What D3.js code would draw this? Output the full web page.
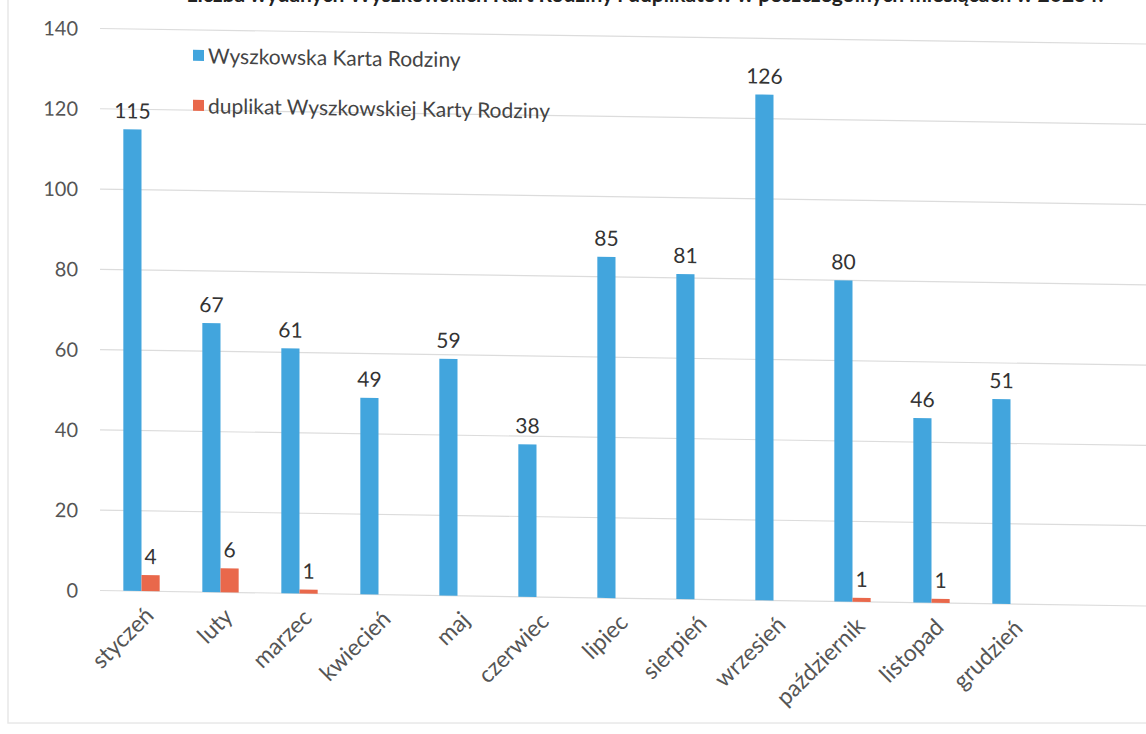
<!DOCTYPE html>
<html>
<head>
<meta charset="utf-8">
<script src="https://cdn.jsdelivr.net/npm/d3@7"></script>
<style>
  body { margin: 0; background: #fff; }
  svg { display: block; font-family: Lato, "Open Sans", sans-serif; }
</style>
</head>
<body>
<div id="chart"></div>
<script>
  // chart data
  var months = ["styczeń", "luty", "marzec", "kwiecień", "maj", "czerwiec",
    "lipiec", "sierpień", "wrzesień", "październik", "listopad", "grudzień"];
  var seriesNames = ["Wyszkowska Karta Rodziny", "duplikat Wyszkowskiej Karty Rodziny"];
  var cards = [115, 67, 61, 49, 59, 38, 85, 81, 126, 80, 46, 51];
  var duplicates = [4, 6, 1, 0, 0, 0, 0, 0, 0, 1, 1, 0];
  var yTicks = [0, 20, 40, 60, 80, 100, 120, 140];
  var colors = ["#42a5dd", "#e9684b"];

  var svgWidth = 1146;
  var svgHeight = 734;

  var svg = d3.select("#chart")
    .append("svg")
    .attr("width", svgWidth)
    .attr("height", svgHeight);

  // faint frame of the scanned page
  svg.append("rect")
    .attr("x", 8).attr("y", -10)
    .attr("width", 1160).attr("height", 733)
    .attr("fill", "none")
    .attr("stroke", "#e8e8e8")
    .attr("stroke-width", 1.5);

  // title, mostly cut off by the top edge of the scan
  svg.append("text")
    .attr("x", 645)
    .attr("y", 2)
    .attr("text-anchor", "middle")
    .attr("font-size", "21px")
    .attr("font-weight", "bold")
    .attr("fill", "#222")
    .text("Liczba wydanych Wyszkowskich Kart Rodziny i duplikatów w poszczególnych miesiącach w 2023 r.");

  // the scan is slightly skewed, everything drops to the right
  var chartGroup = svg.append("g")
    .attr("transform", "translate(0,-1) skewY(0.85)");

  var xScale = d3.scaleBand()
    .domain(months)
    .range([102, 1050])
    .paddingInner(0.54)
    .paddingOuter(0.27);

  var xSub = d3.scaleBand()
    .domain([0, 1])
    .range([0, xScale.bandwidth()]);

  var yScale = d3.scaleLinear()
    .domain([0, 140])
    .range([590, 28]);

  // gridlines
  chartGroup.append("g")
    .selectAll("line")
    .data(yTicks)
    .enter()
    .append("line")
    .attr("x1", 100)
    .attr("x2", 1146)
    .attr("y1", d => yScale(d))
    .attr("y2", d => yScale(d))
    .attr("stroke", "#dcdcdc")
    .attr("stroke-width", 1.2);

  // y axis labels
  var yAxis = d3.axisLeft(yScale).tickValues(yTicks).tickSize(0).tickPadding(0);
  var yG = chartGroup.append("g")
    .attr("transform", "translate(78,0)")
    .call(yAxis);
  yG.select(".domain").remove();
  yG.selectAll("text")
    .attr("font-size", "20px")
    .attr("font-family", "Lato, sans-serif")
    .attr("fill", "#555")
    .attr("dy", "0.35em");

  // x axis labels
  var xAxis = d3.axisBottom(xScale).tickSize(0).tickPadding(0);
  var xG = chartGroup.append("g")
    .attr("transform", "translate(0,600)")
    .call(xAxis);
  xG.select(".domain").remove();
  xG.selectAll("text")
    .attr("font-size", "23px")
    .attr("font-family", "Lato, sans-serif")
    .attr("fill", "#555")
    .attr("text-anchor", "end")
    .attr("transform", "translate(8,10) rotate(-45)")
    .attr("dy", "0.35em")
    .attr("y", 0);

  var rows = months.map(function(m, i) {
    return { month: m, values: [cards[i], duplicates[i]] };
  });

  var groups = chartGroup.selectAll("g.month")
    .data(rows)
    .enter()
    .append("g")
    .attr("class", "month")
    .attr("transform", d => `translate(${xScale(d.month)},0)`);

  groups.selectAll("rect")
    .data(d => d.values)
    .enter()
    .append("rect")
    .attr("x", (d, i) => xSub(i))
    .attr("width", xSub.bandwidth())
    .attr("y", d => yScale(d))
    .attr("height", d => yScale(0) - yScale(d))
    .attr("fill", (d, i) => colors[i]);

  // value labels, only for non-zero values
  groups.each(function(d) {
    var g = d3.select(this);
    d.values.forEach(function(v, i) {
      if (v <= 0) return;
      g.append("text")
        .attr("x", xSub(i) + xSub.bandwidth() / 2)
        .attr("y", yScale(v) - 11)
        .attr("text-anchor", "middle")
        .attr("font-size", "21px")
        .attr("fill", "#333")
        .text(v);
    });
  });

  // legend
  var legend = chartGroup.append("g")
    .attr("transform", "translate(193,48)");

  legend.selectAll("rect")
    .data(seriesNames)
    .enter()
    .append("rect")
    .attr("x", 0)
    .attr("y", (d, i) => i * 50)
    .attr("width", 11)
    .attr("height", 11)
    .attr("fill", (d, i) => colors[i]);

  legend.selectAll("text")
    .data(seriesNames)
    .enter()
    .append("text")
    .attr("x", 15)
    .attr("y", (d, i) => i * 50 + 6)
    .attr("dy", "0.35em")
    .attr("font-size", "21px")
    .attr("fill", "#444")
    .text(d => d);
</script>
</body>
</html>
